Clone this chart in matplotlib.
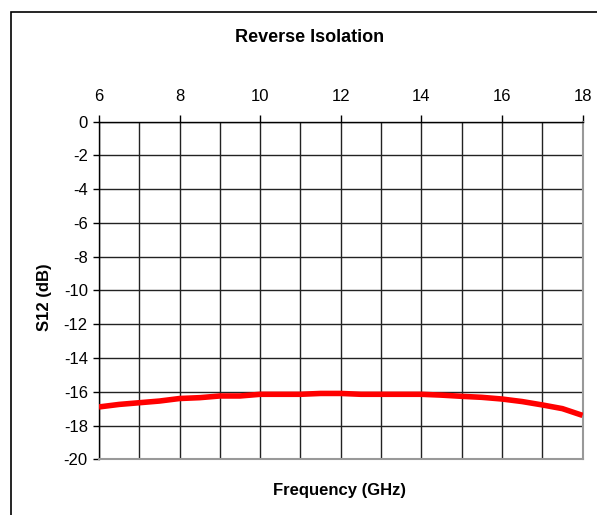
import matplotlib.pyplot as plt
from matplotlib.patches import Rectangle

plt.rcParams['font.family'] = ['Liberation Sans', 'DejaVu Sans']
plt.rcParams['axes.unicode_minus'] = False

# S12 reverse isolation
freq_ghz = [6.0, 6.5, 7.0, 7.5, 8.0, 8.5, 9.0, 9.5, 10.0, 10.5, 11.0, 11.5,
            12.0, 12.5, 13.0, 13.5, 14.0, 14.5, 15.0, 15.5, 16.0, 16.5, 17.0,
            17.5, 18.0]
s12_db = [-16.9, -16.75, -16.65, -16.55, -16.4, -16.35, -16.25, -16.25, -16.15,
          -16.15, -16.15, -16.1, -16.1, -16.15, -16.15, -16.15, -16.15, -16.2,
          -16.27, -16.33, -16.43, -16.58, -16.78, -17.0, -17.4]

x_ticks = [6, 8, 10, 12, 14, 16, 18]
y_ticks = [0, -2, -4, -6, -8, -10, -12, -14, -16, -18, -20]


def main():
    fig = plt.figure(figsize=(5.97, 5.15), dpi=100)
    ax = fig.add_axes([0.1658, 0.1082, 0.810, 0.6555])

    # outer chart frame (cut off at right and bottom like the original)
    top = 1 - 11.5 / 515
    fig.patches.append(Rectangle((10.5 / 597, -0.2), 1.2, top + 0.2,
                                 transform=fig.transFigure, fill=False,
                                 edgecolor='black', linewidth=1.2))

    ax.plot(freq_ghz, s12_db, color='#ff0000', linewidth=4, solid_capstyle='butt',
            zorder=3)

    ax.set_xlim(6, 18)
    ax.set_ylim(-20, 0)

    ax.xaxis.tick_top()
    ax.set_xticks(x_ticks)
    ax.set_xticks(range(6, 19), minor=True)
    ax.set_yticks(y_ticks)
    ax.tick_params(axis='x', which='major', direction='out', length=5, width=1,
                   pad=8, labelsize=12)
    ax.tick_params(axis='x', which='minor', length=0)
    ax.tick_params(axis='y', direction='out', length=4, width=1, pad=4,
                   labelsize=12)

    ax.grid(True, which='both', axis='x', color='#222222', linewidth=1)
    ax.grid(True, which='major', axis='y', color='#222222', linewidth=1)
    ax.set_axisbelow(True)

    for side in ('top', 'left'):
        ax.spines[side].set_color('black')
        ax.spines[side].set_linewidth(1)
    for side in ('bottom', 'right'):
        ax.spines[side].set_color('#999999')
        ax.spines[side].set_linewidth(1.5)

    fig.text(310 / 597, 1 - 38 / 515, 'Reverse Isolation', ha='center',
             va='center', fontsize=13, fontweight='bold')
    fig.text(340 / 597, 1 - 490 / 515, 'Frequency (GHz)', ha='center',
             va='center', fontsize=12, fontweight='bold')
    fig.text(45 / 597, 1 - 297 / 515, 'S12 (dB)', ha='center', va='center',
             rotation=90, fontsize=12, fontweight='bold')

    fig.savefig('out.png', dpi=100)


if __name__ == "__main__":
    main()
